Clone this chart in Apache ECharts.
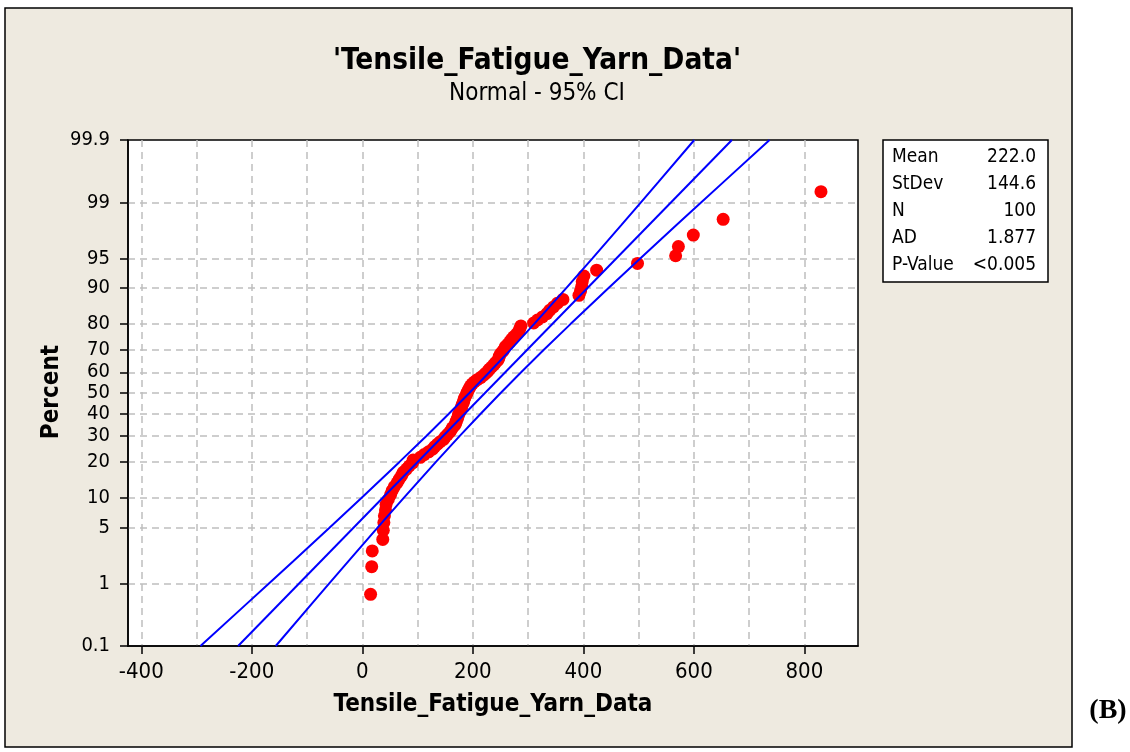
<!DOCTYPE html>
<html lang="en">
<head>
<meta charset="utf-8">
<title>Tensile_Fatigue_Yarn_Data - Normal probability plot</title>
<style>
  html, body { margin: 0; padding: 0; background: #fff; }
  #main { width: 1130px; height: 752px; }
</style>
</head>
<body>
<div id="main"></div>
<script src="https://cdn.jsdelivr.net/npm/echarts@6/dist/echarts.min.js"></script>
<script>
var FONT = "'DejaVu Sans Condensed', 'DejaVu Sans', sans-serif";

// sorted sample values
var yarnData = [15, 17, 18, 37, 38, 39, 40, 42, 43, 47,
                51, 54, 58, 63, 67, 71, 74, 80, 85, 91,
                92, 105, 112, 120, 127, 131, 136, 141, 147, 150,
                154, 158, 161, 163, 167, 169, 170, 172, 173, 174,
                176, 178, 179, 180, 181, 183, 184, 185, 187, 189,
                190, 192, 194, 196, 199, 203, 208, 214, 219, 223,
                227, 230, 234, 238, 241, 245, 247, 248, 250, 254,
                257, 259, 263, 267, 270, 274, 279, 283, 285, 287,
                310, 317, 326, 334, 339, 346, 353, 363, 392, 395,
                397, 398, 401, 424, 498, 567, 572, 599, 653, 830];

// fitted line and 95% CI band (x at given percent)
var fitPct = [0.1, 99.9];
var fitX = [-224.8, 668.8];
var bandPct = [0.1, 0.5, 1, 2, 5, 10, 20, 30, 40, 50, 60, 70, 80, 90, 95, 98, 99, 99.5, 99.9];
var bandLower = [-292.9, -209.4, -169.0, -125.0, -59.4, -1.6, 67.3, 116.0, 156.6, 193.7, 229.8, 267.6, 310.7, 369.0, 416.4, 469.0, 503.8, 535.6, 600.7];
var bandUpper = [-156.7, -91.6, -59.8, -25.0, 27.6, 75.0, 133.3, 176.4, 214.2, 250.3, 287.4, 328.0, 376.7, 445.6, 503.4, 569.0, 613.0, 653.4, 736.9];

var pctTicks = [0.1, 1, 5, 10, 20, 30, 40, 50, 60, 70, 80, 90, 95, 99, 99.9];
var pctLabels = ['0.1', '1', '5', '10', '20', '30', '40', '50', '60', '70', '80', '90', '95', '99', '99.9'];
var xLabelTicks = [-400, -200, 0, 200, 400, 600, 800];
var xGridTicks = [-400, -300, -200, -100, 0, 100, 200, 300, 400, 500, 600, 700, 800];

var statNames = ['Mean', 'StDev', 'N', 'AD', 'P-Value'];
var statValues = ['222.0', '144.6', '100', '1.877', '<0.005'];

// inverse normal cdf (Acklam)
function probit(p) {
  var a = [-3.969683028665376e+01, 2.209460984245205e+02, -2.759285104469687e+02, 1.383577518672690e+02, -3.066479806614716e+01, 2.506628277459239e+00];
  var b = [-5.447609879822406e+01, 1.615858368580409e+02, -1.556989798598866e+02, 6.680131188771972e+01, -1.328068155288572e+01];
  var c = [-7.784894002430293e-03, -3.223964580411365e-01, -2.400758277161838e+00, -2.549732539343734e+00, 4.374664141464968e+00, 2.938163982698783e+00];
  var d = [7.784695709041462e-03, 3.224671290700398e-01, 2.445134137142996e+00, 3.754408661907416e+00];
  var q, r;
  if (p < 0.02425) {
    q = Math.sqrt(-2 * Math.log(p));
    return (((((c[0]*q+c[1])*q+c[2])*q+c[3])*q+c[4])*q+c[5]) / ((((d[0]*q+d[1])*q+d[2])*q+d[3])*q+1);
  }
  q = p - 0.5; r = q * q;
  return (((((a[0]*r+a[1])*r+a[2])*r+a[3])*r+a[4])*r+a[5])*q / (((((b[0]*r+b[1])*r+b[2])*r+b[3])*r+b[4])*r+1);
}
// percent -> probability-scale position, symmetric about 50
function zOf(pct) {
  return pct <= 50 ? probit(pct / 100) : -probit((100 - pct) / 100);
}

var zTicks = pctTicks.map(zOf);
var zMin = zTicks[0], zMax = zTicks[zTicks.length - 1];
var zGrid = zTicks.slice(1, -1); // no dashed line over the frame

// median rank plotting positions
var n = yarnData.length;
var points = yarnData.map(function (v, i) {
  return [v, zOf((i + 1 - 0.3) / (n + 0.4) * 100)];
});
function pairs(xs, ps) {
  return xs.map(function (x, i) { return [x, zOf(ps[i])]; });
}

var gridLine = { color: '#BEBEBE', width: 1.5, type: [7, 5] };
var black = { color: '#000', width: 1.5 };

var graphics = [
  { type: 'rect', z: -10, shape: { x: 5, y: 8, width: 1067, height: 739 },
    style: { fill: '#EEEAE0', stroke: '#000', lineWidth: 1.5 } },
  { type: 'text', x: 537, y: 61, style: { text: "'Tensile_Fatigue_Yarn_Data'", font: 'bold 29.5px ' + FONT, fill: '#000', align: 'center', verticalAlign: 'middle' } },
  { type: 'text', x: 537, y: 94, style: { text: 'Normal - 95% CI', font: '24px ' + FONT, fill: '#000', align: 'center', verticalAlign: 'middle' } },
  { type: 'text', x: 52, y: 392, rotation: Math.PI / 2, style: { text: 'Percent', font: 'bold 24px ' + FONT, fill: '#000', align: 'center', verticalAlign: 'middle' } },
  { type: 'rect', shape: { x: 883, y: 140, width: 165, height: 142 },
    style: { fill: '#fff', stroke: '#000', lineWidth: 1.5 } },
  { type: 'text', x: 1108, y: 711, style: { text: '(B)', font: "bold 28px 'Liberation Serif', serif", fill: '#000', align: 'center', verticalAlign: 'middle' } }
];
for (var i = 0; i < statNames.length; i++) {
  graphics.push({ type: 'text', x: 892, y: 157 + i * 27,
    style: { text: statNames[i], font: '19px ' + FONT, fill: '#000', align: 'left', verticalAlign: 'middle' } });
  graphics.push({ type: 'text', x: 1036, y: 157 + i * 27,
    style: { text: statValues[i], font: '19px ' + FONT, fill: '#000', align: 'right', verticalAlign: 'middle' } });
}

var lineSeries = function (data) {
  return { type: 'line', data: data, showSymbol: false, symbol: 'none', z: 4,
    lineStyle: { color: '#0000FF', width: 2 }, silent: true };
};

var option = {
  animation: false,
  grid: { left: 128, top: 140, width: 730, height: 506, show: true,
          backgroundColor: '#fff', borderColor: '#000', borderWidth: 1.5 },
  graphic: graphics,
  xAxis: [{
    type: 'value', min: -424, max: 897, position: 'bottom',
    name: 'Tensile_Fatigue_Yarn_Data', nameLocation: 'middle', nameGap: 47,
    nameTextStyle: { fontSize: 24, fontWeight: 'bold', fontFamily: FONT, color: '#000' },
    axisLine: { show: true, onZero: false, lineStyle: black },
    axisTick: { show: true, length: 8, lineStyle: black, customValues: xLabelTicks },
    axisLabel: { customValues: xLabelTicks, fontSize: 22, fontFamily: FONT, color: '#000', margin: 15 },
    splitLine: { show: false }
  }, {
    type: 'value', min: -424, max: 897, position: 'bottom',
    axisLine: { show: false, onZero: false },
    axisTick: { show: false, customValues: xGridTicks },
    axisLabel: { show: false, customValues: xGridTicks },
    splitLine: { show: true, lineStyle: gridLine }
  }],
  yAxis: [{
    type: 'value', min: zMin, max: zMax,
    axisLine: { show: true, onZero: false, lineStyle: black },
    axisTick: { show: true, length: 8, lineStyle: black, customValues: zTicks },
    axisLabel: {
      customValues: zTicks, fontSize: 20, fontFamily: FONT, color: '#000', margin: 18,
      showMinLabel: true, showMaxLabel: true,
      formatter: function (val) {
        for (var k = 0; k < zTicks.length; k++) {
          if (Math.abs(zTicks[k] - val) < 1e-3) return pctLabels[k];
        }
        return '';
      }
    },
    splitLine: { show: false }
  }, {
    type: 'value', min: zMin, max: zMax, position: 'left',
    axisLine: { show: false, onZero: false },
    axisTick: { show: false, customValues: zGrid },
    axisLabel: { show: false, customValues: zGrid },
    splitLine: { show: true, lineStyle: gridLine }
  }],
  series: [
    { type: 'scatter', data: points, symbol: 'circle', symbolSize: 13, z: 3,
      itemStyle: { color: '#FF0000', opacity: 1 } },
    lineSeries(pairs(fitX, fitPct)),
    lineSeries(pairs(bandLower, bandPct)),
    lineSeries(pairs(bandUpper, bandPct))
  ]
};

var myChart = echarts.init(document.getElementById('main'));
myChart.setOption(option);
</script>
</body>
</html>
